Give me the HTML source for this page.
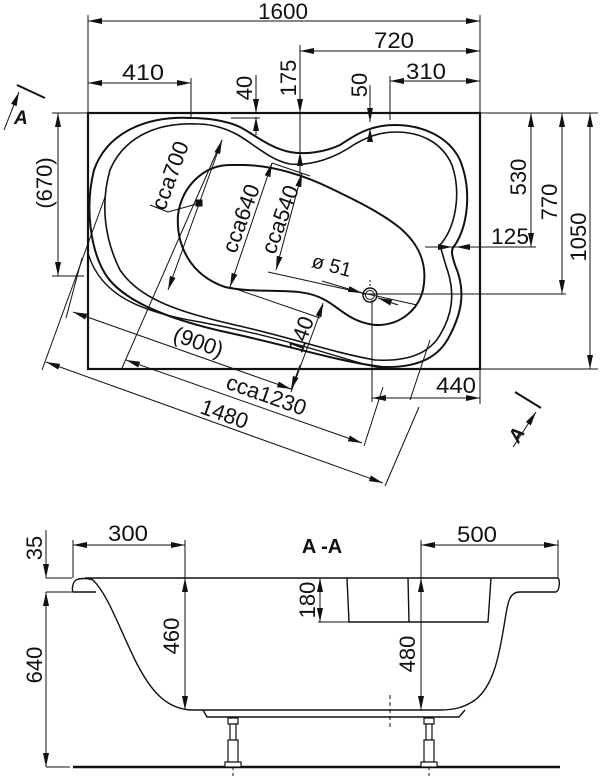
<!DOCTYPE html>
<html><head><style>
html,body{margin:0;padding:0;background:#fff;}
svg{display:block;}
text{font-family:"Liberation Sans",Arial,sans-serif;font-size:22px;fill:#111;}
</style></head><body>
<svg width="600" height="776" viewBox="0 0 600 776" xmlns="http://www.w3.org/2000/svg">
<defs>
<marker id="a" viewBox="0 0 14 6" refX="14" refY="3" markerWidth="14" markerHeight="6" orient="auto-start-reverse" markerUnits="userSpaceOnUse"><path d="M0,0L14,3L0,6z" fill="#111"/></marker>
</defs>
<g stroke="#111" fill="none" stroke-width="1">
<rect x="88" y="113" width="392" height="256" stroke-width="2.2"/>
<line x1="88" y1="15" x2="88" y2="113"/>
<line x1="480" y1="15" x2="480" y2="113"/>
<line x1="300" y1="45" x2="300" y2="152"/>
<line x1="191" y1="78" x2="191" y2="118"/>
<line x1="390" y1="76" x2="390" y2="120"/>
<line x1="480" y1="113" x2="598" y2="113"/>
<line x1="480" y1="369" x2="598" y2="369"/>
<line x1="52" y1="113" x2="88" y2="113"/>
<line x1="52" y1="276" x2="84" y2="276"/>
<line x1="362" y1="294" x2="566" y2="294"/>
<line x1="425" y1="247" x2="536" y2="247"/>
<line x1="372" y1="300" x2="372" y2="402"/>
<line x1="480" y1="369" x2="480" y2="404"/>
<line x1="88" y1="21" x2="480" y2="21" marker-start="url(#a)" marker-end="url(#a)"/>
<line x1="300" y1="51" x2="480" y2="51" marker-start="url(#a)" marker-end="url(#a)"/>
<line x1="88" y1="83" x2="191" y2="83" marker-start="url(#a)" marker-end="url(#a)"/>
<line x1="390" y1="81" x2="480" y2="81" marker-start="url(#a)" marker-end="url(#a)"/>
<line x1="372" y1="398" x2="480" y2="398" marker-start="url(#a)" marker-end="url(#a)"/>
<line x1="256" y1="75" x2="256" y2="113" marker-end="url(#a)"/>
<line x1="256" y1="135" x2="256" y2="117" marker-end="url(#a)"/>
<line x1="300" y1="60" x2="300" y2="113" marker-end="url(#a)"/>
<line x1="300" y1="175" x2="300" y2="152" marker-end="url(#a)"/>
<line x1="370" y1="85" x2="370" y2="122" marker-end="url(#a)"/>
<line x1="370" y1="140" x2="370" y2="128" marker-end="url(#a)"/>
<line x1="231" y1="118" x2="260" y2="118"/>
<line x1="531" y1="113" x2="531" y2="247" marker-start="url(#a)" marker-end="url(#a)"/>
<line x1="562" y1="113" x2="562" y2="294" marker-start="url(#a)" marker-end="url(#a)"/>
<line x1="590" y1="113" x2="590" y2="369" marker-start="url(#a)" marker-end="url(#a)"/>
<line x1="58" y1="113" x2="58" y2="276" marker-start="url(#a)" marker-end="url(#a)"/>
<line x1="425" y1="247" x2="452" y2="247" marker-end="url(#a)"/>
<line x1="500" y1="247" x2="456" y2="247" marker-end="url(#a)"/>
<path stroke-width="2" d="M191,118 C150,116 108,130 94,170 C84,210 92,250 103,270 C118,300 170,320 230,333 C290,346 340,362 383,367 C420,368 440,356 450,335 C462,312 466,290 455,265 C452,255 450,250 455,245 C468,225 472,190 460,160 C448,135 420,125 395,125 C370,125 355,135 340,145 C325,152 305,155 290,152 C270,148 255,135 240,127 C225,120 205,118 191,118Z"/>
<path stroke-width="1.6" d="M198,124 C160,122 125,135 110,170 C100,205 105,240 120,270 C140,300 180,312 235,325 C290,337 330,352 375,360 C410,362 430,352 440,335 C452,315 455,295 448,272 C444,260 442,252 440,245 C455,228 462,195 452,165 C442,142 420,132 396,132 C378,132 366,138 355,144 C335,158 312,166 290,164 C270,160 255,145 238,135 C225,128 212,124 198,124Z"/>
<path stroke-width="1.4" d="M88,253 C100,295 140,312 200,322 C260,333 300,345 350,360 C370,366 380,368 383,368"/>
<path stroke-width="2" d="M230,165 C205,165 182,185 178,215 C176,245 190,275 225,287 C260,295 300,285 325,300 C340,308 350,322 375,325 C400,326 418,310 423,290 C428,265 420,245 400,228 C380,212 355,200 330,188 C305,176 275,166 245,165Z"/>
<line x1="73" y1="312" x2="291" y2="389" marker-start="url(#a)" marker-end="url(#a)"/>
<line x1="126" y1="360" x2="362" y2="443" marker-start="url(#a)" marker-end="url(#a)"/>
<line x1="46" y1="362" x2="383" y2="483" marker-start="url(#a)" marker-end="url(#a)"/>
<line x1="82" y1="258" x2="66" y2="318"/>
<line x1="105" y1="197" x2="42" y2="370"/>
<line x1="222" y1="140" x2="122" y2="368"/>
<line x1="222" y1="140" x2="168" y2="290" marker-start="url(#a)" marker-end="url(#a)"/>
<line x1="272" y1="163" x2="230" y2="287" marker-start="url(#a)" marker-end="url(#a)"/>
<line x1="302" y1="173" x2="276" y2="270" marker-start="url(#a)" marker-end="url(#a)"/>
<line x1="272" y1="163" x2="310" y2="176"/>
<line x1="230" y1="287" x2="320" y2="318"/>
<line x1="268" y1="272" x2="417" y2="305"/>
<line x1="323" y1="305" x2="291" y2="392" />
<line x1="323" y1="303" x2="318" y2="318" marker-start="url(#a)"/>
<line x1="300" y1="365" x2="291" y2="390" marker-end="url(#a)"/>
<line x1="383" y1="387" x2="364" y2="446"/>
<line x1="419" y1="407" x2="385" y2="486"/>
<line x1="430" y1="340" x2="410" y2="400"/>
<line x1="200" y1="203" x2="168" y2="212"/>
<line x1="168" y1="212" x2="150" y2="205"/>
<rect x="196" y="200" width="6" height="6" fill="#111"/>
<line x1="322" y1="281" x2="362" y2="293" marker-end="url(#a)"/>
<line x1="398" y1="305" x2="378" y2="298" marker-end="url(#a)"/>
<circle cx="370" cy="295" r="7" stroke-width="1.4"/>
<circle cx="370" cy="295" r="4.5"/>
<line x1="370" y1="280" x2="370" y2="288" stroke-dasharray="2,2"/>
<line x1="17" y1="85" x2="45" y2="98" stroke-width="2"/>
<line x1="4" y1="130" x2="19" y2="92" marker-end="url(#a)"/>
<line x1="515" y1="392" x2="541" y2="408" stroke-width="2"/>
<line x1="513" y1="447" x2="536" y2="412" marker-end="url(#a)"/>
</g>
<text x="283" y="19" text-anchor="middle" textLength="50" lengthAdjust="spacingAndGlyphs">1600</text>
<text x="394" y="48" text-anchor="middle" textLength="40" lengthAdjust="spacingAndGlyphs">720</text>
<text x="143" y="80" text-anchor="middle" textLength="42" lengthAdjust="spacingAndGlyphs">410</text>
<text x="426" y="79" text-anchor="middle" textLength="40" lengthAdjust="spacingAndGlyphs">310</text>
<text x="456" y="393" text-anchor="middle" textLength="40" lengthAdjust="spacingAndGlyphs">440</text>
<text x="510" y="244" text-anchor="middle" textLength="38" lengthAdjust="spacingAndGlyphs">125</text>
<text transform="translate(252,88) rotate(-90)" text-anchor="middle">40</text>
<text transform="translate(296,78) rotate(-90)" text-anchor="middle">175</text>
<text transform="translate(367,85) rotate(-90)" text-anchor="middle">50</text>
<text transform="translate(526,177) rotate(-90)" text-anchor="middle">530</text>
<text transform="translate(557,202) rotate(-90)" text-anchor="middle">770</text>
<text transform="translate(586,237) rotate(-90)" text-anchor="middle">1050</text>
<text transform="translate(52,183) rotate(-90)" text-anchor="middle">(670)</text>
<text transform="translate(177,178) rotate(-70)" text-anchor="middle">cca700</text>
<text transform="translate(248,221) rotate(-70)" text-anchor="middle">cca640</text>
<text transform="translate(287,222) rotate(-70)" text-anchor="middle">cca540</text>
<text transform="translate(308,337) rotate(-70)" text-anchor="middle">140</text>
<text transform="translate(196,349) rotate(19.5)" text-anchor="middle">(900)</text>
<text transform="translate(264,402) rotate(19.5)" text-anchor="middle">cca1230</text>
<text transform="translate(222,421) rotate(19.5)" text-anchor="middle">1480</text>
<text transform="translate(330,272) rotate(15)" text-anchor="middle" style="font-size:20px">ø 51</text>
<text x="14" y="124" style="font-style:italic;font-weight:bold;font-size:19px">A</text>
<text transform="translate(522,438) rotate(-60)" text-anchor="middle" style="font-style:italic;font-weight:bold;font-size:19px">A</text>

<g stroke="#111" fill="none" stroke-width="1.4">
<path d="M85,578 L558,578 C560,580 560,590 556,592 L520,592 C510,592 508,600 505,620 C500,650 495,685 475,700 C465,707 455,710 440,710 L190,710 C165,708 150,690 135,660 C118,625 108,595 93,580 C88,578 80,578 76,580 C72,583 72,590 73,592 L96,592"/>
<path d="M203,710 L207,717 L459,717 L465,710"/>
<path d="M347,578 L349,622 L488,622 L491,578"/>
<line x1="408" y1="578" x2="409" y2="622"/>
<line x1="73" y1="767" x2="560" y2="767" stroke-width="2.5"/>
</g>
<g stroke="#111" fill="none" stroke-width="1">
<line x1="46" y1="578" x2="72" y2="578"/>
<line x1="46" y1="592" x2="72" y2="592"/>
<line x1="46" y1="767" x2="70" y2="767"/>
<line x1="73" y1="540" x2="73" y2="578"/>
<line x1="185" y1="540" x2="185" y2="710"/>
<line x1="421" y1="540" x2="421" y2="710"/>
<line x1="558" y1="540" x2="558" y2="578"/>
<line x1="73" y1="545" x2="185" y2="545" marker-start="url(#a)" marker-end="url(#a)"/>
<line x1="421" y1="545" x2="558" y2="545" marker-start="url(#a)" marker-end="url(#a)"/>
<line x1="46" y1="530" x2="46" y2="578" marker-end="url(#a)"/>
<line x1="46" y1="592" x2="46" y2="767" marker-start="url(#a)" marker-end="url(#a)"/>
<line x1="185" y1="578" x2="185" y2="710" marker-start="url(#a)" marker-end="url(#a)"/>
<line x1="421" y1="578" x2="421" y2="710" marker-start="url(#a)" marker-end="url(#a)"/>
<line x1="320" y1="578" x2="320" y2="622" marker-start="url(#a)" marker-end="url(#a)"/>
<line x1="318" y1="622" x2="349" y2="622"/>
<line x1="390" y1="695" x2="390" y2="728" stroke-dasharray="4,3"/>
<line x1="233" y1="717" x2="233" y2="776" stroke-dasharray="5,3"/>
<line x1="429" y1="717" x2="429" y2="776" stroke-dasharray="5,3"/>
</g>
<g fill="#fff" stroke="#111" stroke-width="1.2">
<rect x="228" y="718" width="10" height="6"/><rect x="230" y="724" width="6" height="16"/><rect x="228" y="740" width="10" height="22"/><rect x="225" y="762" width="16" height="5"/>
<rect x="424" y="718" width="10" height="6"/><rect x="426" y="724" width="6" height="16"/><rect x="424" y="740" width="10" height="22"/><rect x="421" y="762" width="16" height="5"/>
</g>
<text x="128" y="541" text-anchor="middle" textLength="40" lengthAdjust="spacingAndGlyphs">300</text>
<text x="477" y="542" text-anchor="middle" textLength="40" lengthAdjust="spacingAndGlyphs">500</text>
<text x="322" y="553" text-anchor="middle" style="font-weight:bold;font-size:20px">A -A</text>
<text transform="translate(42,548) rotate(-90)" text-anchor="middle">35</text>
<text transform="translate(42,665) rotate(-90)" text-anchor="middle">640</text>
<text transform="translate(179,636) rotate(-90)" text-anchor="middle">460</text>
<text transform="translate(415,654) rotate(-90)" text-anchor="middle">480</text>
<text transform="translate(315,600) rotate(-90)" text-anchor="middle">180</text>
</svg>
</body></html>
